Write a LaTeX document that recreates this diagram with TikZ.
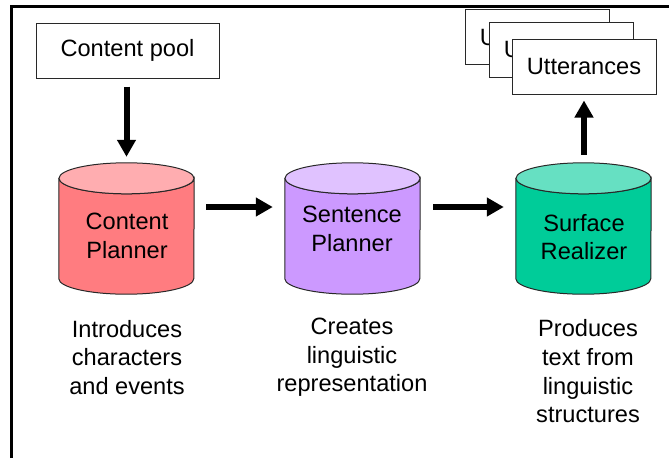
\documentclass[tikz,border=0pt]{standalone}
\usepackage{fontspec}
\setmainfont{Liberation Sans}
\usetikzlibrary{arrows.meta,calc}

\definecolor{cpBody}{RGB}{255,124,128}
\definecolor{cpTop}{RGB}{255,173,176}
\definecolor{spBody}{RGB}{204,153,255}
\definecolor{spTop}{RGB}{224,194,255}
\definecolor{srBody}{RGB}{0,204,153}
\definecolor{srTop}{RGB}{102,224,194}
\definecolor{edge}{RGB}{40,40,40}

% cylinder drawn around an (invisible) node: #1 node name, #2 body, #3 top
\newcommand{\drawdrum}[3]{%
  \draw[edge, line width=1pt, fill=#2]
    ($(#1.north west)+(0,15.5)$) -- ($(#1.south west)+(0,-15.5)$)
    arc[start angle=180, end angle=0, x radius=67.5, y radius=15.5]
    -- ($(#1.north east)+(0,15.5)$)
    arc[start angle=0, end angle=180, x radius=67.5, y radius=15.5] -- cycle;
  \draw[edge, line width=1pt, fill=#3]
    ($(#1.north)+(0,15.5)$) ellipse[x radius=67.5, y radius=15.5];
}

\tikzset{
  txt/.style={font=\fontsize{23.6}{28.7}\selectfont, align=center, inner sep=0pt},
  drum/.style={draw=none, inner sep=0pt, minimum width=135pt, minimum height=131pt},
  card/.style={draw=edge, line width=1pt, fill=white, inner sep=0pt,
    minimum height=55pt, font=\fontsize{23.6}{28.7}\selectfont},
  flow/.style={line width=6pt, -{Triangle[width=18pt,length=17pt]}},
}

\begin{document}
\begin{tikzpicture}[x=1pt, y=-1pt]
\useasboundingbox (0,0) rectangle (669,458);

% frame
\draw[line width=3.5pt] (11.5,458) -- (11.5,6.5) -- (669,6.5);

% input box
\node[card, minimum width=183pt] (pool) at (127.5,50.5) {Content pool};

% stacked output cards
\node[card, minimum width=144pt] (utt1) at (537,37) {Utterances};
\node[card, minimum width=144pt] (utt2) at (561,49.5) {Utterances};
\node[card, minimum width=144pt] (utt3) at (584,66.5) {Utterances};

% stages
\node[drum] (cp) at (126.5,228.5) {};
\node[drum] (sp) at (352.5,228.5) {};
\node[drum] (sr) at (583.5,228.5) {};
\drawdrum{cp}{cpBody}{cpTop}
\drawdrum{sp}{spBody}{spTop}
\drawdrum{sr}{srBody}{srTop}

\node[txt] (cpt) at (127,236) {Content\\Planner};
\node[txt] (spt) at (352,229) {Sentence\\Planner};
\node[txt] (srt) at (584,237) {Surface\\Realizer};

% descriptions
\node[txt] (cpd) at (127,357.5) {Introduces\\characters\\and events};
\node[txt] (spd) at (352,357.5) {Creates\\linguistic\\representation};
\node[txt] (srd) at (588,371.5) {Produces\\text from\\linguistic\\structures};

% connectors
\draw[flow, shorten <=8pt, shorten >=6pt] (pool.south -| cp.north) -- (cp.north);
\draw[flow, shorten <=12pt, shorten >=12pt] ($(cp.east)+(0,-21.5)$) -- ($(sp.west)+(0,-21.5)$);
\draw[flow, shorten <=13pt, shorten >=12pt] ($(sp.east)+(0,-21.5)$) -- ($(sr.west)+(0,-21.5)$);
\draw[flow, shorten <=8pt, shorten >=6pt] (sr.north -| utt3.south) -- (utt3.south);
\end{tikzpicture}
\end{document}
